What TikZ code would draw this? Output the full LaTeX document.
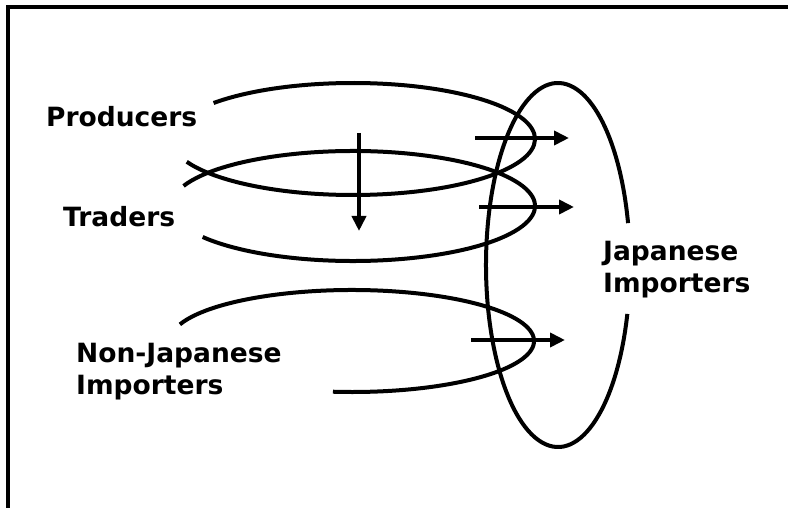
\documentclass[tikz,border=0pt]{standalone}
\usepackage{fontspec}
\setmainfont{DejaVu Sans}
\usetikzlibrary{arrows.meta}
\begin{document}
\begin{tikzpicture}[x=1pt,y=-1pt,
  curve/.style={draw=black, line width=4pt},
  flow/.style={draw=black, line width=4pt, -{Triangle[length=15pt,width=14pt]}},
  lbl/.style={font=\fontsize{26.5}{32}\selectfont\bfseries, inner sep=0pt, align=left}]
\useasboundingbox (0,0) rectangle (788,508);
% frame
\draw[line width=4pt] (788,7) -- (7.5,7) -- (7.5,508);
% flow loops
\draw[curve] (353,139) ++(-140:182 and 56) arc[start angle=-140, end angle=156, x radius=182, y radius=56];
\draw[curve] (353,206) ++(-158.6:182 and 55) arc[start angle=-158.6, end angle=145.7, x radius=182, y radius=55];
\draw[curve] (352,341) ++(-161:182 and 51) arc[start angle=-161, end angle=96, x radius=182, y radius=51];
% Japanese importers ellipse (gap for label)
\draw[curve] (558,265) ++(15.6:72 and 182) arc[start angle=15.6, end angle=346.7, x radius=72, y radius=182];
% arrows
\coordinate (a1s) at (475,138); \coordinate (a1e) at (569,138);
\coordinate (a2s) at (479,207); \coordinate (a2e) at (574,207);
\coordinate (a3s) at (471,340); \coordinate (a3e) at (565,340);
\coordinate (vs) at (359,133); \coordinate (ve) at (359,231);
\draw[flow] (a1s) -- (a1e);
\draw[flow] (a2s) -- (a2e);
\draw[flow] (a3s) -- (a3e);
\draw[flow] (vs) -- (ve);
% labels
\node[lbl, anchor=base west] (prod) at (46,127) {Producers};
\node[lbl, anchor=base west] (trad) at (63,227) {Traders};
\node[lbl, anchor=north west] (nonjap) at (76,342.7) {Non-Japanese\\Importers};
\node[lbl, anchor=north west] (jap) at (603,240.7) {Japanese\\Importers};
\end{tikzpicture}
\end{document}
